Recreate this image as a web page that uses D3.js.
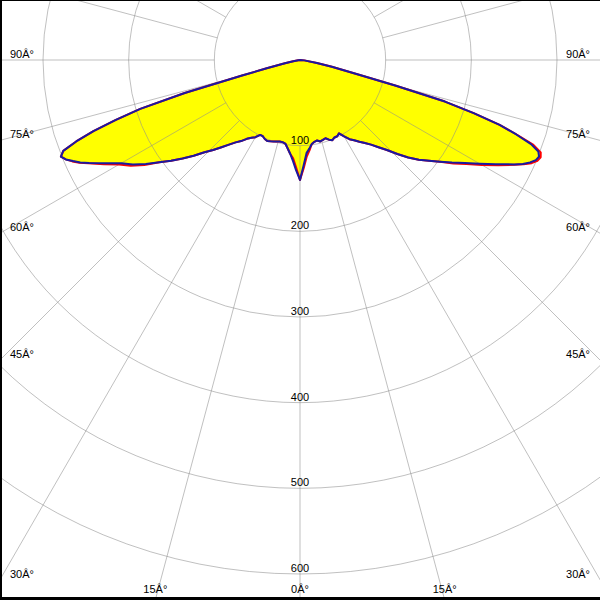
<!DOCTYPE html>
<html><head><meta charset="utf-8">
<script src="https://cdn.jsdelivr.net/npm/d3@7"></script>
<style>body{margin:0;background:#fff}svg{display:block}</style>
</head><body><svg id="c" width="600" height="600"></svg>
<script>
// gamma angles (degrees from nadir)
const gamma = [0,2,4,6,8,10,12,14,16,18,20,22,24,26,28,30,32,34,36,38,40,42,44,46,48,50,52,54,56,58,60,62,64,65,66,67,68,69,70,71,72,73,74,75,76,78,80,85,90];
// C90-C270 plane (blue): right half / left half, cd
const blueRight = [140,123,109,104,99,97,96,98,97,96,99,101,99,99,97,103,109,113,118,123,129,137,146,158,170,181,191,202,214,227,242,259,278,287,294,299,301,298,287,267,245,212,176,115,70,38,20,5,0];
const blueLeft  = [140,129,118,110,104,99,98,98,99,100,101,102,101,99,99,104,107,111,117,122,129,137,146,155,167,179,191,203,217,230,241,257,274,283,290,297,301,296,278,255,226,195,140,70,40,18,8,2,0];
// C0-C180 plane (red)
const redRight  = [140,126,113,106,99,97,96,98,97,96,99,101,99,99,97,103,109,113,118,123,129,137,146,158,170,181,191,202,216,229,245,262,279,288,296,301,303,301,290,268,245,212,176,115,70,38,20,5,0];
const redLeft   = [140,126,115,110,104,99,98,98,99,100,101,102,101,99,99,104,107,111,117,122,129,137,146,155,167,179,191,203,219,233,244,259,275,284,291,297,301,296,278,255,226,195,140,70,40,18,8,2,0];
// rings and labels
const ringValues = [100,200,300,400,500,600];
const ringLabels = ["100","200","300","400","500","600"];
const angleValues = [0,15,30,45,60,75,90];
const angleLabels = ["0Â°","15Â°","30Â°","45Â°","60Â°","75Â°","90Â°"];

const W=600,H=600,cx=300,cy=60;
const r = d3.scaleLinear().domain([0,600]).range([0,514]);
const svg = d3.select('#c');
svg.append('rect').attr('width',W).attr('height',H).attr('fill','#fff');
const rad = d => d*Math.PI/180;
function pts(left,right){
  const a=[];
  for(let i=gamma.length-1;i>=0;i--) a.push([Math.PI+rad(gamma[i]), r(left[i])]);
  for(let i=0;i<gamma.length;i++) a.push([Math.PI-rad(gamma[i]), r(right[i])]);
  return a;
}
const g = svg.append('g').attr('transform',`translate(${cx},${cy})`);
const area = d3.lineRadial().curve(d3.curveLinearClosed);
const line = d3.lineRadial();
g.append('path').attr('d',area(pts(redLeft,redRight))).attr('fill','#ffff00');
g.append('path').attr('d',area(pts(blueLeft,blueRight))).attr('fill','#ffff00');

// grid
const grid = g.append('g').attr('stroke','#8c8c8c').attr('stroke-opacity',0.55).attr('fill','none').attr('stroke-width',1);
grid.selectAll('circle').data(ringValues).join('circle').attr('r',d=>r(d));
const spokes = d3.range(0,360,15);
grid.selectAll('line').data(spokes).join('line')
  .attr('x1',d=>r(100)*Math.sin(rad(d))).attr('y1',d=>r(100)*Math.cos(rad(d)))
  .attr('x2',d=>1000*Math.sin(rad(d))).attr('y2',d=>1000*Math.cos(rad(d)));

const font = {'font-family':'Liberation Sans, Arial, sans-serif','font-size':'11px','fill':'#000'};
function styl(sel){for(const k in font) sel.attr(k,font[k]); return sel;}
// ring labels
styl(svg.append('g').selectAll('text').data(ringValues).join('text')
  .attr('x',cx).attr('y',d=>cy+r(d)-2).attr('text-anchor','middle').text((d,i)=>ringLabels[i]));

// angle labels at frame edge
const lab = svg.append('g');
angleValues.forEach((a,i)=>{
  const sides = a===0 ? [1] : [-1,1];
  sides.forEach(s=>{
    const dx = Math.sin(rad(a))*s, dy = Math.cos(rad(a));
    const tx = dx!==0 ? (s>0 ? (W-cx)/Math.abs(dx) : cx/Math.abs(dx)) : Infinity;
    const ty = dy>1e-9 ? (H-cy)/dy : Infinity;
    let x,y,anchor;
    if (tx < ty) { y = cy + dy*tx - 2; x = s>0 ? W-10 : 10; anchor = s>0 ? 'end':'start'; }
    else { x = cx + dx*ty; y = H-7; anchor='middle'; }
    styl(lab.append('text').attr('x',x).attr('y',y).attr('text-anchor',anchor).text(angleLabels[i]));
  });
});

// curves
g.append('path').attr('d',line(pts(redLeft,redRight))).attr('fill','none').attr('stroke','#ff0000').attr('stroke-width',2).attr('stroke-linejoin','round');
g.append('path').attr('d',line(pts(blueLeft,blueRight))).attr('fill','none').attr('stroke','#1a1aa0').attr('stroke-width',2).attr('stroke-linejoin','round');

// frame
svg.append('rect').attr('x',0).attr('y',0).attr('width',W).attr('height',1).attr('fill','#000');
svg.append('rect').attr('x',0).attr('y',0).attr('width',2).attr('height',H).attr('fill','#000');
svg.append('rect').attr('x',0).attr('y',H-3).attr('width',W).attr('height',3).attr('fill','#000');
</script></body></html>
